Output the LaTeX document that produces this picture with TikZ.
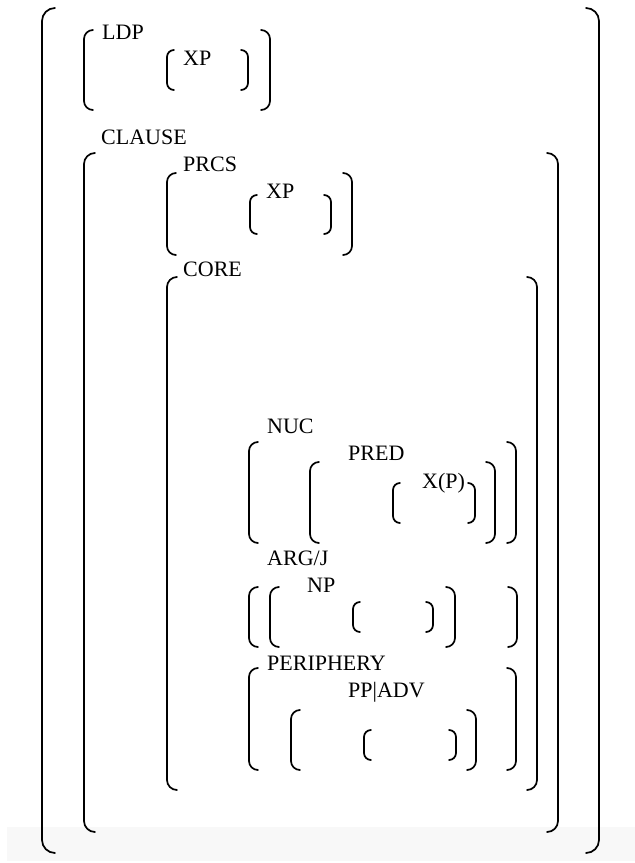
\documentclass[tikz,border=0pt]{standalone}
\usepackage{fontspec}
\setmainfont{Liberation Serif}
\usepackage{tikz}
\usetikzlibrary{positioning}
\definecolor{bandclr}{RGB}{248,248,248}
\tikzset{
  brk/.style={line width=1.7pt,line cap=round},
  lbl/.style={anchor=base west,inner sep=0pt,font=\fontsize{22}{26}\selectfont},
}
% left and right brackets: [curl] x, top, bottom
\newcommand{\openbr}[4][9]{\draw[brk,rounded corners=#1pt] (#2+#1,#3) -- (#2,#3) -- (#2,#4) -- (#2+#1,#4);}
\newcommand{\closebr}[4][9]{\draw[brk,rounded corners=#1pt] (#2-#1,#3) -- (#2,#3) -- (#2,#4) -- (#2-#1,#4);}

\begin{document}
\begin{tikzpicture}[x=1pt, y=-1pt]
\useasboundingbox (0,0) rectangle (635,863);
\fill[bandclr] (7,827) rectangle (635,861);

% sentence
\openbr[13]{42}{8}{853}
\closebr[13]{599}{8}{853}

% left-detached position
\node[lbl] (ldp) at (102,39) {LDP};
\openbr{84}{30}{110}
\closebr{270}{30}{110}
\node[lbl] (ldpxp) at (183,65) {XP};
\openbr[7]{167}{50}{90}
\closebr[7]{248}{50}{90}

% clause
\node[lbl] (clause) at (101,144) {CLAUSE};
\openbr[11]{84}{153}{832}
\closebr[11]{558}{153}{832}

\node[lbl] (prcs) at (183,171) {PRCS};
\openbr{167}{173}{255}
\closebr{352}{173}{255}
\node[lbl] (prcsxp) at (266,198) {XP};
\openbr[7]{250}{195}{234}
\closebr[7]{331}{195}{234}

% core
\node[lbl] (core) at (183,276) {CORE};
\openbr[10]{167}{277}{790}
\closebr[10]{537}{277}{790}

\node[lbl] (nuc) at (267,433) {NUC};
\openbr{249}{442}{543}
\closebr{516}{442}{543}
\node[lbl] (pred) at (348,460) {PRED};
\openbr{310}{462}{543}
\closebr{495}{462}{543}
\node[lbl] (xp) at (422,488) {X(P)};
\openbr[7]{393}{483}{523}
\closebr[7]{475}{483}{523}

\node[lbl] (arg) at (267,565) {ARG/J};
\openbr{249}{587}{647}
\closebr{517}{587}{647}
\node[lbl] (np) at (307,592) {NP};
\openbr{270}{587}{647}
\closebr{455}{587}{647}
\openbr[7]{353}{602}{632}
\closebr[7]{433}{602}{632}

\node[lbl] (periph) at (267,670) {PERIPHERY};
\openbr{249}{668}{770}
\closebr{516}{668}{770}
\node[lbl] (ppadv) at (348,697) {PP|ADV};
\openbr{291}{710}{770}
\closebr{476}{710}{770}
\openbr[7]{364}{730}{760}
\closebr[7]{456}{730}{760}
\end{tikzpicture}
\end{document}
